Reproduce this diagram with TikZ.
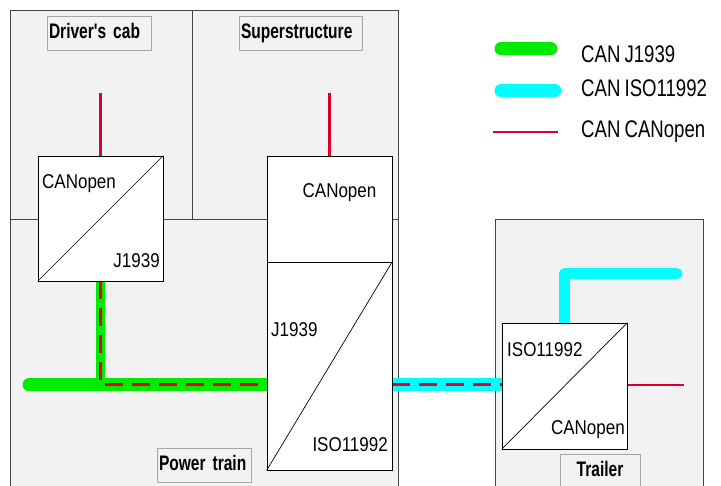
\documentclass[tikz,border=0pt]{standalone}
\usepackage{fontspec}
\setmainfont{Liberation Sans}
\newfontfamily\boxfont{Liberation Sans}[FakeStretch=0.85]
\newfontfamily\legfont{Liberation Sans}[FakeStretch=0.775, WordSpace=0.8]
\newfontfamily\labfont{Liberation Sans}[FakeStretch=0.74, WordSpace=0.75]
\definecolor{rfill}{RGB}{242,242,242}
\definecolor{rgn}{RGB}{70,70,70}
\definecolor{labd}{RGB}{165,165,165}
\definecolor{cgreen}{RGB}{0,235,0}
\definecolor{ccyan}{RGB}{0,255,255}
\definecolor{cred}{RGB}{220,0,45}
\pgfdeclarelayer{regions}
\pgfdeclarelayer{wires}
\pgfsetlayers{regions,wires,main}
\begin{document}
\begin{tikzpicture}[x=1pt,y=-1pt,
 region/.style={draw=rgn, fill=rfill, line width=0.8pt},
 ecu/.style={draw=black, fill=white, line width=0.7pt, inner sep=0pt, minimum width=125pt},
 diag/.style={draw=black, line width=0.7pt},
 lab/.style={draw=labd, fill=rfill, line width=0.6pt, font=\labfont\bfseries\fontsize{21}{24}\selectfont, inner xsep=2pt, inner ysep=0pt, text height=15pt, text depth=4pt, minimum height=34pt},
 btxt/.style={font=\boxfont\fontsize{20}{24}\selectfont, inner sep=0pt},
 ltxt/.style={font=\legfont\fontsize{24}{28}\selectfont, inner sep=0pt, anchor=base west},
 j1939/.style={draw=cgreen, line width=13pt},
 iso/.style={draw=ccyan, line width=13pt},
 copen/.style={draw=cred, line width=2.6pt},
 copendash/.style={draw=cred, line width=3pt, dash pattern=on 18pt off 9pt},
]
\useasboundingbox (0,0) rectangle (721,486);

% regions
\begin{pgfonlayer}{regions}
\draw[region] (10,10) rectangle (192,219);
\draw[region] (192,10) rectangle (398,219);
\draw[region] (10,219) rectangle (398,495);
\draw[region] (495,219) rectangle (703,495);
\end{pgfonlayer}

% region labels
\node[lab, text width=100pt, align=left] (lcab) at (99,33) {Driver's cab};
\node[lab, text width=119pt, align=left] (lsup) at (300.5,33) {Superstructure};
\node[lab, text width=90pt, align=left] (lpow) at (204,465.5) {Power train};
\node[lab, text width=76pt, align=center] (ltrl) at (600,471) {Trailer};

% ECUs
\node[ecu, minimum height=125pt] (dc) at (100.5,218.5) {};
\node[ecu, minimum height=106pt] (ss) at (329.5,209) {};
\node[ecu, minimum height=208pt] (gw) at (329.5,366) {};
\node[ecu, minimum height=126pt] (tr) at (564.5,386) {};
\draw[diag] (dc.south west) -- (dc.north east);
\draw[diag] (gw.south west) -- (gw.north east);
\draw[diag] (tr.south west) -- (tr.north east);

% ECU texts
\node[btxt, anchor=base west] (t1) at (42,189) {CANopen};
\node[btxt, anchor=base east] (t2) at (160,268) {J1939};
\node[btxt, anchor=base] (t3) at (339.5,198) {CANopen};
\node[btxt, anchor=base west] (t4) at (271,337) {J1939};
\node[btxt, anchor=base east] (t5) at (388,452) {ISO11992};
\node[btxt, anchor=base west] (t6) at (507,357) {ISO11992};
\node[btxt, anchor=base east] (t7) at (625,435) {CANopen};

% wires
\coordinate (dctop) at (100.5,93);
\coordinate (sstop) at (329.5,93);
\coordinate (pl) at (29,385);
\coordinate (pc) at (100.5,385);
\coordinate (tc) at (564.5,274);
\coordinate (te) at (677,274);
\coordinate (tre) at (684,385);
\begin{pgfonlayer}{wires}
\draw[copen] (dctop) -- (dc.north);
\draw[copen] (sstop) -- (ss.north);
\draw[j1939, line cap=round] (pl) -- (gw.west |- pl);
\draw[j1939, line width=9pt] (dc.south) -- (pc);
\draw[copendash] (dc.south) -- (pc) -- (gw.west |- pl);
\draw[iso] (gw.east |- pl) -- (tr.west |- pl);
\draw[copendash] (gw.east |- pl) -- (tr.west |- pl);
\draw[iso, line width=11pt, line cap=round, line join=round] (tr.north) -- (tc) -- (te);
\draw[copen] (tr.east |- pl) -- (tre);
\end{pgfonlayer}

% legend
\coordinate (g1) at (501,49); \coordinate (g2) at (551,49);
\coordinate (c1) at (501,91); \coordinate (c2) at (555,91);
\coordinate (r1) at (493,132); \coordinate (r2) at (558,132);
\draw[j1939, line cap=round] (g1) -- (g2);
\draw[iso, line cap=round] (c1) -- (c2);
\draw[copen] (r1) -- (r2);
\node[ltxt] (lg1) at (581,63) {CAN J1939};
\node[ltxt] (lg2) at (581,97) {CAN ISO11992};
\node[ltxt] (lg3) at (581,138) {CAN CANopen};
\end{tikzpicture}
\end{document}
